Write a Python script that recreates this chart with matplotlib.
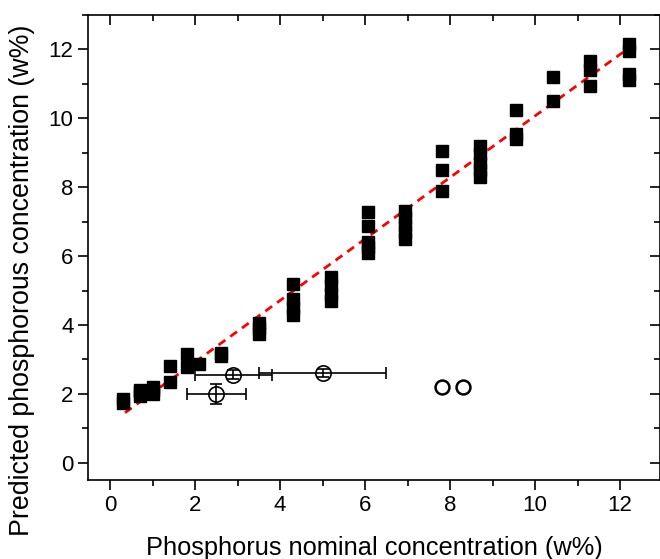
import numpy as np
import matplotlib.pyplot as plt
from matplotlib.ticker import MultipleLocator

plt.rcParams['font.family'] = ['Liberation Sans', 'DejaVu Sans']

# predicted vs nominal (filled squares)
nominal = [0.3, 0.3,
           0.7, 0.7, 0.7,
           1.0, 1.0, 1.0,
           1.4, 1.4,
           1.8, 1.8,
           2.1,
           2.6, 2.6,
           3.5, 3.5, 3.5,
           4.3, 4.3, 4.3, 4.3,
           5.2, 5.2, 5.2, 5.2,
           6.07, 6.07, 6.07, 6.07, 6.07,
           6.94, 6.94, 6.94, 6.94, 6.94,
           7.8, 7.8, 7.8,
           8.7, 8.7, 8.7, 8.7, 8.7,
           9.55, 9.55, 9.55,
           10.42, 10.42,
           11.29, 11.29, 11.29,
           12.2, 12.2, 12.2, 12.2]
predicted = [1.75, 1.85,
             1.95, 2.05, 2.1,
             2.0, 2.1, 2.2,
             2.8, 2.35,
             3.17, 2.79,
             2.88,
             3.1, 3.2,
             3.75, 3.9, 4.05,
             5.2, 4.75, 4.5, 4.3,
             5.4, 5.15, 4.9, 4.7,
             7.27, 6.86, 6.4, 6.25, 6.1,
             7.3, 7.1, 6.9, 6.7, 6.5,
             9.04, 8.49, 7.88,
             9.2, 8.95, 8.7, 8.5, 8.3,
             10.25, 9.55, 9.4,
             11.19, 10.49,
             11.65, 11.4, 10.95,
             12.15, 11.95, 11.3, 11.1]

# open circles with error bars
ext_x = [2.9, 5.0, 2.5]
ext_y = [2.56, 2.6, 2.0]
ext_xerr = [[0.9, 1.5, 0.7], [0.9, 1.5, 0.7]]
ext_yerr = [0.12, 0.12, 0.29]

# open circles without error bars
out_x = [7.8, 8.3]
out_y = [2.2, 2.2]

# fit line
fit_x = [0.35, 12.2]
fit_slope = 0.893
fit_icpt = 1.14

fig = plt.figure(figsize=(6.6, 5.59), dpi=100)
ax = fig.add_axes([0.1333, 0.1413, 0.8667, 0.8319])

fx = np.array(fit_x)
ax.plot(fx, fit_slope * fx + fit_icpt, color='red', lw=2, dashes=(3, 2.2), zorder=1)

ax.plot(nominal, predicted, 's', color='black', markersize=8, zorder=3)

# circles first, error bars drawn on top of them
ax.plot(ext_x, ext_y, 'o', mfc='white', mec='black', markersize=11, mew=1.2, zorder=4)
ax.errorbar(ext_x, ext_y, xerr=ext_xerr, yerr=ext_yerr, fmt='none',
            ecolor='black', elinewidth=1.2, capsize=4, capthick=1.2, zorder=5)
ax.plot(out_x, out_y, 'o', mfc='white', mec='black', markersize=10, mew=1.8, zorder=4)

ax.set_xlim(-0.52, 12.94)
ax.set_ylim(-0.5, 13)
ax.xaxis.set_major_locator(MultipleLocator(2))
ax.xaxis.set_minor_locator(MultipleLocator(1))
ax.yaxis.set_major_locator(MultipleLocator(2))
ax.yaxis.set_minor_locator(MultipleLocator(1))

ax.tick_params(which='both', top=True, right=True, labelsize=16, width=1.2,
               direction='out')
ax.tick_params(which='major', length=7)
ax.tick_params(which='minor', length=4)
ax.tick_params(axis='x', pad=4)
# mirrored ticks on top and right point inward
for t in ax.xaxis.get_major_ticks() + ax.xaxis.get_minor_ticks():
    t.tick2line.set_marker(3)
for t in ax.yaxis.get_major_ticks() + ax.yaxis.get_minor_ticks():
    t.tick2line.set_marker(0)
for s in ax.spines.values():
    s.set_linewidth(1.2)

ax.set_xlabel('Phosphorus nominal concentration (w%)', fontsize=18.3)
ax.set_ylabel('Predicted phosphorous concentration (w%)', fontsize=19.3)
ax.xaxis.set_label_coords(0.5, -0.121)
ax.yaxis.set_label_coords(-0.092, 0.43)

fig.savefig('out.png', dpi=100)
